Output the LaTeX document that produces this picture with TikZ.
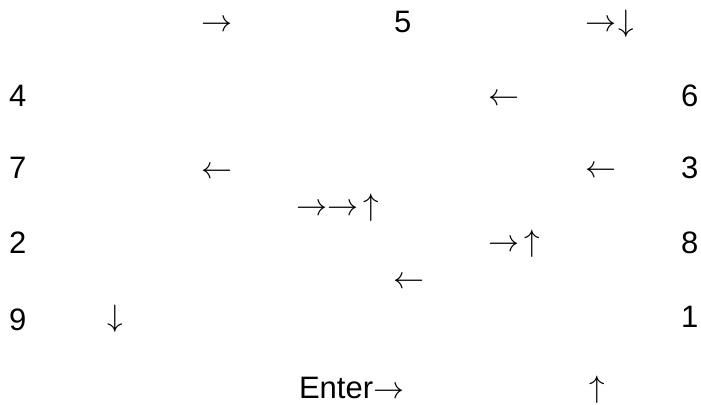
\RequirePackage{fix-cm}
\documentclass[tikz,border=0pt]{standalone}
\usepackage{fontspec}
\setmainfont{Liberation Sans}
\newcommand{\ra}{$\rightarrow$}
\newcommand{\la}{$\leftarrow$}
\newcommand{\ua}{$\uparrow$}
\newcommand{\da}{$\downarrow$}
\begin{document}
\begin{tikzpicture}[x=1bp,y=-1bp,
  lbl/.style={anchor=base west,inner sep=0pt,outer sep=0pt,
    font=\fontsize{31bp}{37bp}\selectfont}]
\useasboundingbox (0,0) rectangle (701,404);
% first row
\node[lbl] (a1) at (201,31) {\ra};
\node[lbl] (n5) at (394,32) {5};
\node[lbl] (a2) at (585,31) {$\rightarrow\mkern1.5mu\downarrow$};
% second row
\node[lbl] (n4) at (9,106) {4};
\node[lbl] (a3) at (488,105) {\la};
\node[lbl] (n6) at (681,106) {6};
% third row
\node[lbl] (n7) at (9,178) {7};
\node[lbl] (a4) at (201,178) {\la};
\node[lbl] (a5) at (585,177) {\la};
\node[lbl] (n3) at (681,178) {3};
% fourth row
\node[lbl] (a6) at (296,215) {$\rightarrow\rightarrow\mkern3mu\uparrow$};
\node[lbl] (n2) at (9,253) {2};
\node[lbl] (a7) at (488,251) {$\rightarrow\mkern3mu\uparrow$};
\node[lbl] (n8) at (681,253) {8};
\node[lbl] (a8) at (393,288) {\la};
% fifth row
\node[lbl] (n9) at (9,330) {9};
\node[lbl] (a9) at (107,326) {\da};
\node[lbl] (n1) at (681,327) {1};
% last row
\node[lbl] (en) at (299,398) {Enter\ra};
\node[lbl] (a10) at (589,397) {\ua};
\end{tikzpicture}
\end{document}
